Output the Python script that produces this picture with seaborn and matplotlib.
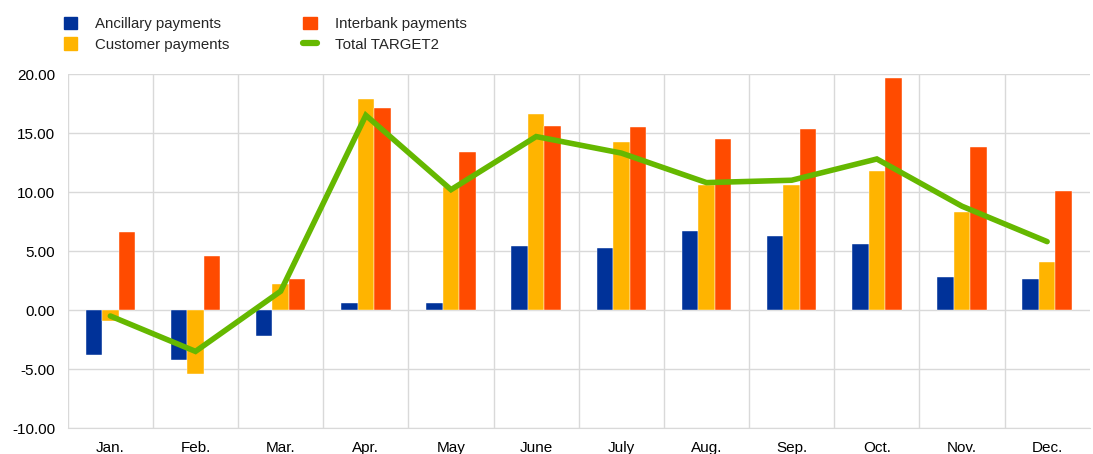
import matplotlib
matplotlib.use('Agg')

import matplotlib.pyplot as plt
import seaborn as sns
import pandas as pd
from matplotlib.lines import Line2D
from matplotlib.patches import Patch

# Monthly changes (%) by payment type
months = ['Jan.', 'Feb.', 'Mar.', 'Apr.', 'May', 'June', 'July', 'Aug.', 'Sep.', 'Oct.', 'Nov.', 'Dec.']
ancillary = [-3.8, -4.2, -2.2, 0.6, 0.6, 5.4, 5.3, 6.7, 6.3, 5.6, 2.8, 2.6]
customer = [-0.9, -5.4, 2.2, 17.9, 10.4, 16.6, 14.2, 10.6, 10.6, 11.8, 8.3, 4.1]
interbank = [6.6, 4.6, 2.6, 17.1, 13.4, 15.6, 15.5, 14.5, 15.3, 19.7, 13.8, 10.1]
total = [-0.5, -3.5, 1.6, 16.5, 10.2, 14.7, 13.3, 10.8, 11.0, 12.8, 8.8, 5.8]

series_names = ['Ancillary payments', 'Customer payments', 'Interbank payments']
colors = ['#003299', '#FFB400', '#FF4B00']
line_color = '#65B800'

df = pd.DataFrame({
    'month': months * 3,
    'series': [s for s in series_names for _ in months],
    'value': ancillary + customer + interbank,
})

sns.set_style('white')
plt.rcParams['font.family'] = ['Liberation Sans', 'DejaVu Sans']

fig = plt.figure(figsize=(10.93, 4.54), dpi=100)
ax = fig.add_axes([0.062, 0.057, 0.935, 0.78])

sns.barplot(data=df, x='month', y='value', hue='series', order=months,
            hue_order=series_names, palette=colors, saturation=1, width=0.58,
            edgecolor='#ffffff', linewidth=0.3, legend=False, ax=ax)

ax.plot(range(len(months)), total, color=line_color, lw=4, solid_capstyle='round',
        solid_joinstyle='miter', zorder=5)

# Axes styling
ax.set_xlim(-0.5, len(months) - 0.5)
ax.set_ylim(-10, 20)
ax.set_yticks(range(-10, 21, 5))
ax.set_yticklabels([f'{v:.2f}' for v in range(-10, 21, 5)])
ax.set_xlabel('')
ax.set_ylabel('')
ax.set_xticks(range(len(months)))
ax.set_xticklabels(months)
ax.set_xticks([i + 0.5 for i in range(-1, len(months) - 1)], minor=True)
ax.grid(True, axis='y', color='#d9d9d9', lw=1)
ax.grid(True, axis='x', which='minor', color='#d9d9d9', lw=1)
ax.grid(False, axis='x', which='major')
ax.set_axisbelow(True)
ax.tick_params(axis='both', which='both', length=0, labelsize=11, colors='#000000')
ax.tick_params(axis='x', pad=9)
ax.tick_params(axis='y', pad=9)
for side in ['top', 'right', 'left']:
    ax.spines[side].set_visible(False)
ax.spines['bottom'].set_color('#d9d9d9')

# Legend
handles = [
    Patch(color=colors[0], label=series_names[0]),
    Patch(color=colors[1], label=series_names[1]),
    Patch(color=colors[2], label=series_names[2]),
    Line2D([0], [0], color=line_color, lw=4.5, label='Total TARGET2'),
]
fig.legend(handles=handles, ncol=2, loc='upper left', bbox_to_anchor=(0.046, 0.993),
           frameon=False, fontsize=10.8, handlelength=0.9, handleheight=0.9,
           handletextpad=1.2, columnspacing=4.9, labelspacing=0.42,
           borderaxespad=0.5)

fig.savefig('out.png', dpi=100)
